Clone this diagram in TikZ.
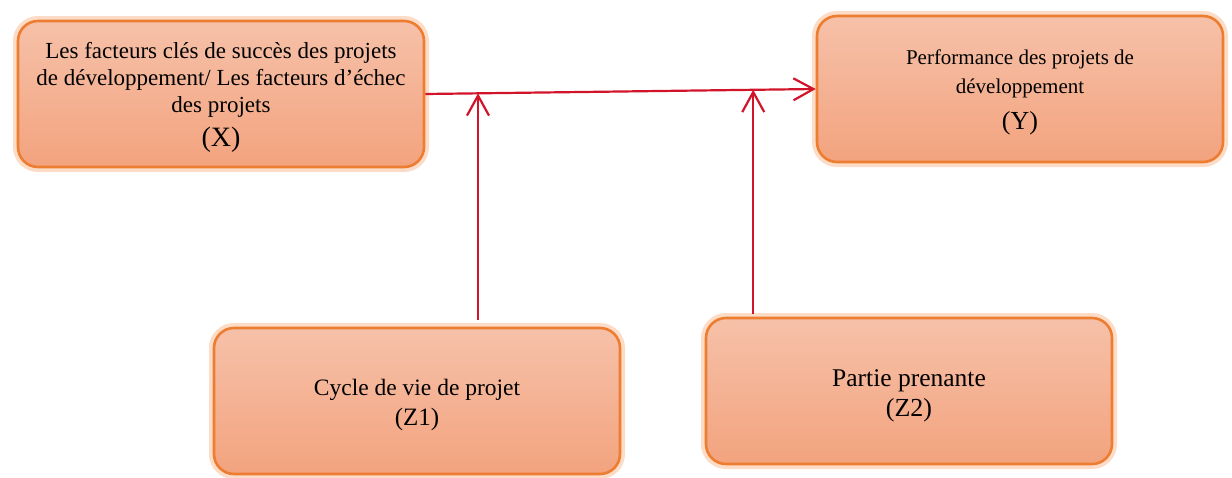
\documentclass[tikz,border=0pt]{standalone}
\usepackage{fontspec}
\setmainfont{Liberation Serif}
\usetikzlibrary{arrows.meta,calc}
\definecolor{boxline}{HTML}{ED7D31}
\definecolor{boxtop}{HTML}{F6C1A9}
\definecolor{boxbot}{HTML}{F3A37E}
\definecolor{glow}{HTML}{FCDCC6}
\definecolor{arrowred}{HTML}{D2142A}

\begin{document}
\begin{tikzpicture}[x=1pt,y=-1pt,
    bloc/.style={draw=boxline, line width=2.6pt, rounded corners=20pt,
        top color=boxtop, bottom color=boxbot,
        preaction={draw=glow, line width=10pt},
        minimum width=406pt, minimum height=146pt, align=center,
        font=\fontsize{23}{27}\selectfont},
    fleche/.style={draw=arrowred, line width=2.2pt,
        -{Straight Barb[length=20pt,width=22pt,line width=2.2pt]}}]
    \useasboundingbox (0,0) rectangle (1232,477);
    % boxes
    \node[bloc] (X) at (221,94) {\rule{0pt}{23pt}Les facteurs clés de succès des projets\\
        de développement/ Les facteurs d’échec\\ des projets\\[7pt]
        {\fontsize{28}{33}\selectfont (X)}};
    \node[bloc, font=\fontsize{21}{29}\selectfont] (Y) at (1020,89)
        {\rule{0pt}{21pt}Performance des projets de\\ développement\\[7pt]
        {\fontsize{26}{34}\selectfont (Y)}};
    \node[bloc, font=\fontsize{23.5}{30}\selectfont] (Z1) at (417,401)
        {\rule{0pt}{24pt}Cycle de vie de projet\\ {\fontsize{25}{30}\selectfont (Z1)}};
    \node[bloc, font=\fontsize{25.5}{30}\selectfont] (Z2) at (909,391)
        {\rule{0pt}{26pt}Partie prenante\\ {\fontsize{26}{30}\selectfont (Z2)}};
    % arrows
    \draw[fleche] (X.east) -- (Y.west);
    \coordinate (j1) at ($(X.east)!0.135!(Y.west)$);
    \coordinate (j2) at ($(X.east)!0.84!(Y.west)$);
    \draw[fleche, shorten <=7pt] (j1 |- Z1.north) -- (j1);
    \draw[fleche, shorten <=3pt] (j2 |- Z2.north) -- (j2);
\end{tikzpicture}
\end{document}
